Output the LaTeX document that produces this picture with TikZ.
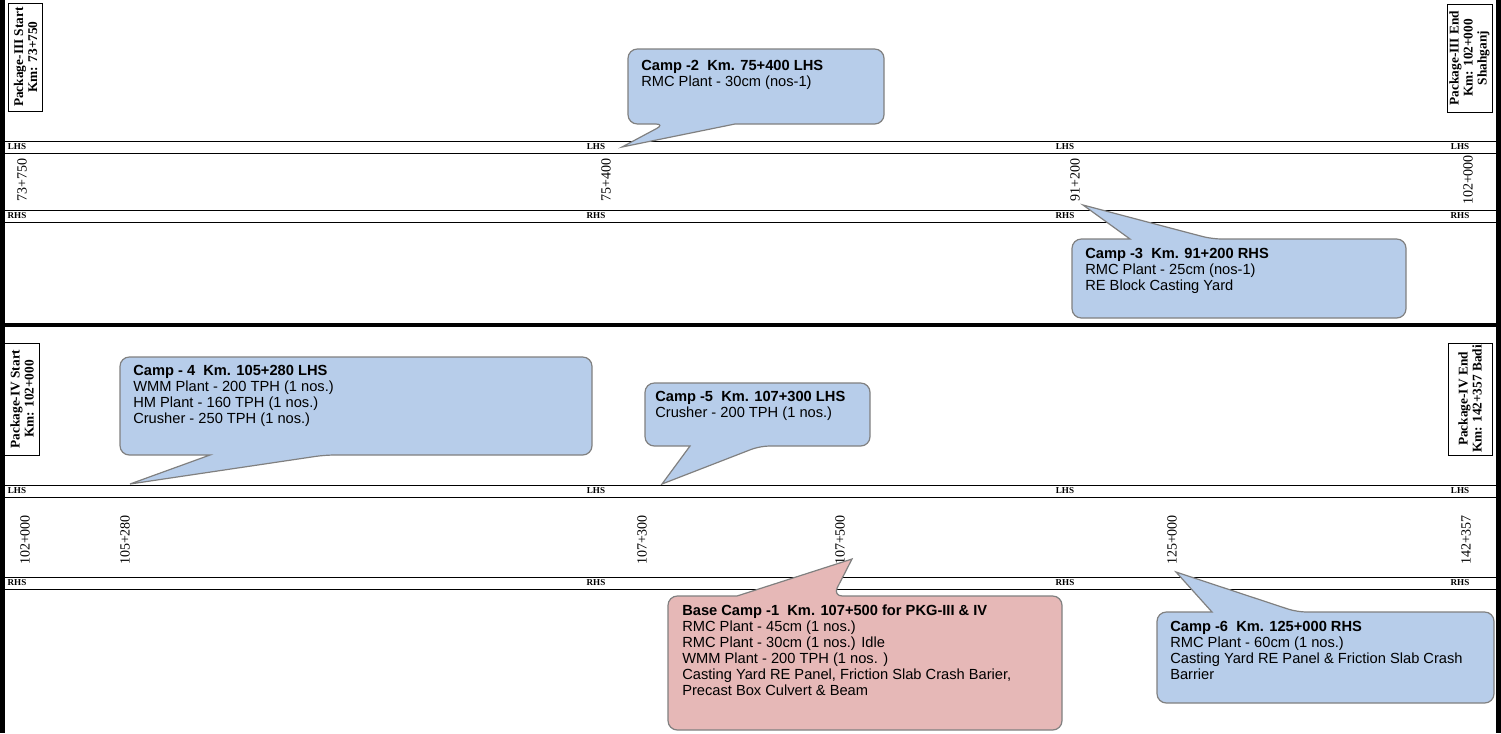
\documentclass[tikz,border=0pt]{standalone}
\usepackage{fontspec}
\setmainfont{Liberation Serif}
\setsansfont{Liberation Sans}
\usepackage{tikz}

\definecolor{callblue}{RGB}{183,205,234}
\definecolor{callpink}{RGB}{230,184,183}
\definecolor{calledge}{RGB}{128,128,128}

\begin{document}
\begin{tikzpicture}[x=0.75pt,y=0.75pt,yscale=-1,xscale=1,
  side/.style={font=\fontsize{6.8}{8}\selectfont\bfseries, inner sep=0pt},
  chainage/.style={font=\fontsize{10.5}{12}\selectfont, rotate=90, inner sep=0pt},
  pkgbox/.style={draw, line width=0.75pt, rotate=90, align=center, font=\fontsize{10}{10.5}\selectfont\bfseries, inner sep=1.2pt},
  bluecall/.style={fill=callblue, draw=calledge, line width=0.9pt},
  pinkcall/.style={fill=callpink, draw=calledge, line width=0.9pt},
  calltext/.style={font=\fontsize{11}{12}\selectfont\sffamily, align=left, anchor=north west, inner sep=0pt}
]
\useasboundingbox (0,0) rectangle (1501,733);

%Straight Lines: frame
\draw[line width=3.75pt] (2.5,0) -- (2.5,733);
\draw[line width=3.75pt] (1498.5,0) -- (1498.5,733);
\draw[line width=3pt] (0,324.5) -- (1501,324.5);

%Straight Lines: Package-III road
\draw[line width=0.75pt] (0,141) -- (1501,141);
\draw[line width=0.75pt] (0,153) -- (1501,153);
\draw[line width=0.75pt] (0,210) -- (1501,210);
\draw[line width=0.75pt] (0,222) -- (1501,222);

%Straight Lines: Package-IV road
\draw[line width=0.75pt] (0,485) -- (1501,485);
\draw[line width=0.75pt] (0,497) -- (1501,497);
\draw[line width=0.75pt] (0,577) -- (1501,577);
\draw[line width=0.75pt] (0,589) -- (1501,589);

%Text: sides, Package-III
\node[side] (lhsA) at (17,147) {LHS};
\node[side] (lhsB) at (596,147) {LHS};
\node[side] (lhsC) at (1065,147) {LHS};
\node[side] (lhsD) at (1460,147) {LHS};
\node[side] (rhsA) at (17,216) {RHS};
\node[side] (rhsB) at (596,216) {RHS};
\node[side] (rhsC) at (1065,216) {RHS};
\node[side] (rhsD) at (1460,216) {RHS};

%Text: sides, Package-IV
\node[side] (lhsE) at (17,491) {LHS};
\node[side] (lhsF) at (596,491) {LHS};
\node[side] (lhsG) at (1065,491) {LHS};
\node[side] (lhsH) at (1460,491) {LHS};
\node[side] (rhsE) at (17,583) {RHS};
\node[side] (rhsF) at (596,583) {RHS};
\node[side] (rhsG) at (1065,583) {RHS};
\node[side] (rhsH) at (1460,583) {RHS};

%Text: chainages, Package-III
\node[chainage] (km73750) at (22,180) {73+750};
\node[chainage] (km75400) at (606,180) {75+400};
\node[chainage] (km91200) at (1075,180) {91+200};
\node[chainage] (km102000) at (1468,180) {102+000};

%Text: chainages, Package-IV
\node[chainage] (kmB102000) at (25,540) {102+000};
\node[chainage] (km105280) at (125,540) {105+280};
\node[chainage] (km107300) at (642,540) {107+300};
\node[chainage] (km107500) at (840,540) {107+500};
\node[chainage] (km125000) at (1172,540) {125+000};
\node[chainage] (km142357) at (1466,540) {142+357};

%Shape: Rectangle, package ends
\node[pkgbox, minimum width=81pt, minimum height=26pt] (p3start) at (25.5,57) {Package-III Start\\Km: 73+750};
\node[pkgbox, minimum width=81pt, minimum height=33.75pt] (p3end) at (1469.5,58) {Package-III End\\Km: 102+000\\Shahganj};
\node[pkgbox, minimum width=84pt, minimum height=26pt] (p4start) at (22,399) {Package-IV Start\\Km: 102+000};
\node[pkgbox, minimum width=84pt, minimum height=33pt] (p4end) at (1470,399) {Package-IV End\\Km: 142+357 Badi};

%Callout tips
\coordinate (tip2) at (622,147);
\coordinate (tip3) at (1083,205);
\coordinate (tip4) at (130,484);
\coordinate (tip5) at (662,484);
\coordinate (tip1) at (852,559);
\coordinate (tip6) at (1176,572);

%Shape: Callout, Camp -2
\draw[bluecall] (tip2) -- (735,124) [rounded corners=7pt] -- (884,124) -- (884,49) -- (628,49) -- (628,124) -- (665,124) [sharp corners] -- cycle;
\node[calltext] (camp2) at (641,60) {\textbf{Camp -2\ \ Km. 75+400 LHS}\\RMC Plant - 30cm (nos-1)};

%Shape: Callout, Camp -3
\draw[bluecall] (tip3) -- (1130,239) [rounded corners=7pt] -- (1072,239) -- (1072,318) -- (1406,318) -- (1406,239) -- (1212,239) [sharp corners] -- cycle;
\node[calltext] (camp3) at (1085,248) {\textbf{Camp -3\ \ Km. 91+200 RHS}\\RMC Plant - 25cm (nos-1)\\RE Block Casting Yard};

%Shape: Callout, Camp - 4
\draw[bluecall] (tip4) -- (210,455) [rounded corners=7pt] -- (120,455) -- (120,357) -- (592,357) -- (592,455) -- (325,455) [sharp corners] -- cycle;
\node[calltext] (camp4) at (133,365) {\textbf{Camp - 4\ \ Km. 105+280 LHS}\\WMM Plant - 200 TPH (1 nos.)\\HM Plant - 160 TPH (1 nos.)\\Crusher - 250 TPH (1 nos.)};

%Shape: Callout, Camp -5
\draw[bluecall] (tip5) -- (690,446) [rounded corners=7pt] -- (645,446) -- (645,383) -- (870,383) -- (870,446) -- (760,446) [sharp corners] -- cycle;
\node[calltext] (camp5) at (655,391) {\textbf{Camp -5\ \ Km. 107+300 LHS}\\Crusher - 200 TPH (1 nos.)};

%Shape: Callout, Base Camp -1
\draw[pinkcall] (tip1) -- (737,596) [rounded corners=7pt] -- (668,596) -- (668,730) -- (1062,730) -- (1062,596) -- (833,596) [sharp corners] -- cycle;
\node[calltext] (camp1) at (682,605) {\textbf{Base Camp -1\ \ Km. 107+500 for PKG-III \& IV}\\RMC Plant - 45cm (1 nos.)\\RMC Plant - 30cm (1 nos.) Idle\\WMM Plant - 200 TPH (1 nos. )\\Casting Yard RE Panel, Friction Slab Crash Barier,\\Precast Box Culvert \& Beam};

%Shape: Callout, Camp -6
\draw[bluecall] (tip6) -- (1212,612) [rounded corners=7pt] -- (1157,612) -- (1157,703) -- (1494,703) -- (1494,612) -- (1297,612) [sharp corners] -- cycle;
\node[calltext] (camp6) at (1170,621) {\textbf{Camp -6\ \ Km. 125+000 RHS}\\RMC Plant - 60cm (1 nos.)\\Casting Yard RE Panel \& Friction Slab Crash\\Barrier};

\end{tikzpicture}
\end{document}
